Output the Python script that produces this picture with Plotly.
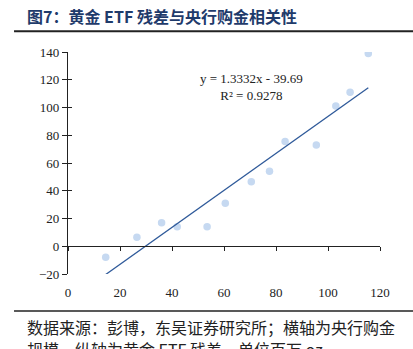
import plotly.graph_objects as go

# Central bank gold purchases (x) vs. gold ETF residual (y)
cb_purchases = [14.5, 26.5, 36, 42, 53.5, 60.5, 70.5, 77.5, 83.5, 95.5, 103, 108.5, 115.5]
etf_residual = [-8, 6.5, 17, 14, 14, 31, 46.5, 54, 75.5, 73, 101, 111, 139]

slope = 1.3332
intercept = -39.69
r_squared = 0.9278

x_ticks = [0, 20, 40, 60, 80, 100, 120]
y_ticks = [-20, 0, 20, 40, 60, 80, 100, 120, 140]

title_text = "图7：黄金 ETF 残差与央行购金相关性"
source_lines = ["数据来源：彭博，东吴证券研究所；横轴为央行购金",
                "规模，纵轴为黄金 ETF 残差，单位百万 oz"]

fit_x = [min(cb_purchases), max(cb_purchases)]
fit_y = [slope * v + intercept for v in fit_x]

X_RANGE = [0, 120]
Y_RANGE = [-20, 140]
zero_pos = (0 - Y_RANGE[0]) / (Y_RANGE[1] - Y_RANGE[0])

serif = "Times New Roman, Liberation Serif, serif"
cjk = "Noto Sans CJK SC, sans-serif"

fig = go.Figure()
fig.add_trace(go.Scatter(
    x=cb_purchases, y=etf_residual, mode="markers",
    marker=dict(color="#C6D9F1", size=7.5, line=dict(width=0)),
    showlegend=False, hoverinfo="x+y",
))
fig.add_trace(go.Scatter(
    x=fit_x, y=fit_y, mode="lines",
    line=dict(color="#2F5A9A", width=1.3),
    showlegend=False, hoverinfo="skip",
))

fig.add_annotation(
    x=70.7, y=115, xref="x", yref="y",
    text=f"y = {slope}x - {abs(intercept)}<br>R² = {r_squared}",
    showarrow=False, align="center",
    font=dict(family=serif, size=13, color="#222222"),
)

axis_common = dict(range=X_RANGE, tickvals=x_ticks, showgrid=False, zeroline=False)

fig.update_layout(
    width=413, height=349,
    margin=dict(l=68, r=33, t=52, b=75),
    paper_bgcolor="white", plot_bgcolor="white",
    # bottom axis carries only the tick labels
    xaxis=dict(**axis_common, showline=False, ticks="outside", ticklen=6,
               tickcolor="rgba(0,0,0,0)",
               tickfont=dict(family=serif, size=13, color="#222222")),
    # horizontal axis line drawn through y = 0, ticks crossing both sides
    xaxis2=dict(**axis_common, overlaying="x", anchor="free", position=zero_pos,
                showline=True, linecolor="#222222", linewidth=1.2,
                ticks="outside", ticklen=4, tickcolor="#222222", tickwidth=1.2,
                showticklabels=False),
    xaxis3=dict(**axis_common, overlaying="x", anchor="free", position=zero_pos,
                showline=False, ticks="inside", ticklen=4, tickcolor="#222222",
                tickwidth=1.2, showticklabels=False, side="top"),
    yaxis=dict(range=Y_RANGE, tickvals=y_ticks, showgrid=False, zeroline=False,
               showline=True, linecolor="#222222", linewidth=1.2,
               ticks="outside", ticklen=5, tickcolor="#222222", tickwidth=1.2,
               tickfont=dict(family=serif, size=13, color="#222222")),
    yaxis2=dict(range=Y_RANGE, tickvals=y_ticks, overlaying="y", anchor="x",
                side="left", showgrid=False, zeroline=False, showline=False,
                ticks="inside", ticklen=4, tickcolor="#222222", tickwidth=1.2,
                showticklabels=False),
)

# helper traces so the overlay axes are drawn
fig.add_trace(go.Scatter(x=[None], y=[None], xaxis="x2", yaxis="y",
                         showlegend=False, hoverinfo="skip"))
fig.add_trace(go.Scatter(x=[None], y=[None], xaxis="x3", yaxis="y2",
                         showlegend=False, hoverinfo="skip"))

# title and rules
fig.add_annotation(
    x=-0.139, y=1.164, xref="paper", yref="paper", xanchor="left", yanchor="middle",
    text=f"<b>{title_text}</b>", showarrow=False,
    font=dict(family=cjk, size=16, color="#1F3B6B"),
)
fig.add_shape(type="line", xref="paper", yref="paper",
              x0=-0.173, x1=1.11, y0=1.093, y1=1.093,
              line=dict(color="#222222", width=2))
fig.add_shape(type="line", xref="paper", yref="paper",
              x0=-0.173, x1=1.11, y0=-0.167, y1=-0.167,
              line=dict(color="#222222", width=1.5))

# source note, one annotation per line
for line_text, y_pos in zip(source_lines, [-0.2387, -0.3378]):
    fig.add_annotation(
        x=-0.139, y=y_pos, xref="paper", yref="paper", xanchor="left",
        yanchor="middle", text=line_text, showarrow=False, align="left",
        font=dict(family=cjk, size=16, color="#222222"),
    )

fig.write_html("out.html")
